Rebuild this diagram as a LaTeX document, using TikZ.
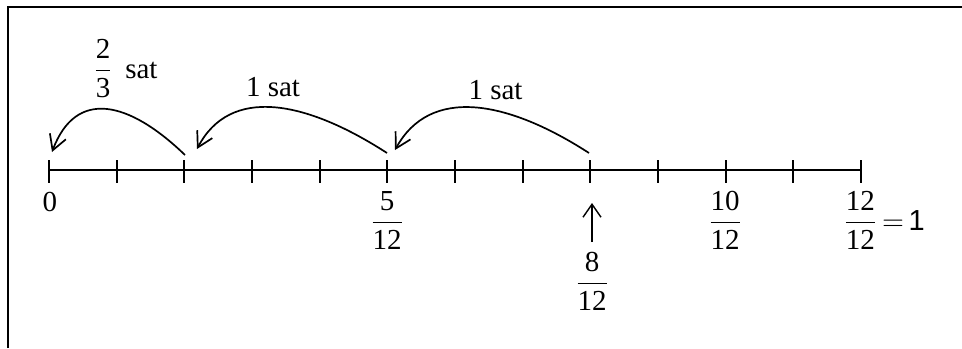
\documentclass[tikz,border=0pt]{standalone}
\usepackage{amsmath}
\usepackage{fontspec}
\setmainfont{Liberation Serif}
\setsansfont{Liberation Sans}
\usetikzlibrary{arrows.meta}
\begin{document}
\begin{tikzpicture}[x=0.5pt,y=-0.5pt,
  lbl/.style={inner sep=0pt, font=\fontsize{14.5}{17}\selectfont},
  ln/.style={line width=1pt},
  jump/.style={line width=0.85pt, -{Straight Barb[length=7.5pt,width=8.5pt,line width=0.85pt]}},
  uparr/.style={line width=0.7pt, -{Straight Barb[length=6.5pt,width=9pt,line width=0.7pt]}},
]
\useasboundingbox (0,0) rectangle (962,348);
% frame (top and left edges)
\draw[ln] (8,348) -- (8,7) -- (962,7);
% axis
\foreach \i in {0,...,12}{
  \coordinate (t\i) at ({49+\i*67.67},170);
  \draw[ln] (t\i) ++(0,-10) -- ++(0,23);
}
\draw[ln] (t0) -- (t12);
% labels under the axis
\node[lbl, anchor=base] (n0) at (50,211) {0};
\node[lbl, anchor=base] (f5) at (387,230) {$\dfrac{\text{5}}{\text{12}}$};
\node[lbl, anchor=base] (f10) at (725,230) {$\dfrac{\text{10}}{\text{12}}$};
\node[lbl, anchor=base west] (f12) at (843,230) {$\dfrac{\text{12}}{\text{12}}\mkern3mu{=}\mkern3mu\text{\sffamily 1}$};
\node[lbl, anchor=base] (f8) at (592,291) {$\dfrac{\text{8}}{\text{12}}$};
% up arrow to 8/12
\coordinate (ubot) at (592,242);
\coordinate (utop) at (592,203);
\draw[uparr] (ubot) -- (utop);
% jumps
\coordinate (a3s) at (589,153);
\coordinate (a3e) at (395,150);
\coordinate (a2s) at (387,153);
\coordinate (a2e) at (197,149);
\coordinate (a1s) at (185,155);
\coordinate (a1e) at (52,152);
\draw[jump] (a3s) .. controls (507,100) and (430,86) .. (a3e);
\draw[jump] (a2s) .. controls (305,100) and (230,86) .. (a2e);
\draw[jump] (a1s) .. controls (129,101) and (76,88) .. (a1e);
% jump labels
\node[lbl, anchor=base] (s3) at (495.5,99) {1 sat};
\node[lbl, anchor=base] (s2) at (273,96) {1 sat};
\node[lbl, anchor=base west] (s1) at (93,78) {$\dfrac{\text{2}}{\text{3}}$\hspace{6.3pt}sat};
\end{tikzpicture}
\end{document}
